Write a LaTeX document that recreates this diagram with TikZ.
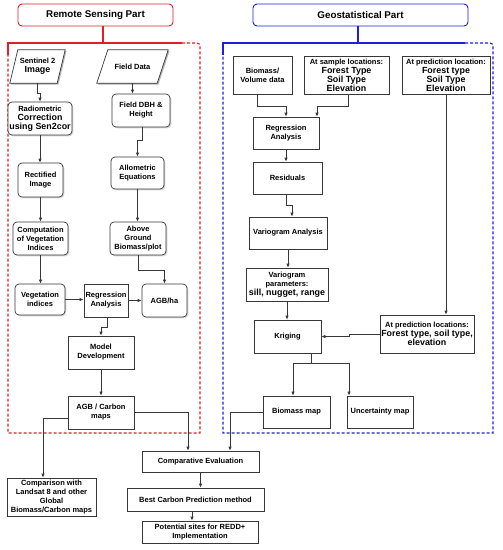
\documentclass[tikz,border=0pt]{standalone}
\usepackage{fontspec}
\setmainfont{Liberation Sans}
\usetikzlibrary{arrows.meta,shadows,calc}
\definecolor{rsred}{RGB}{225,30,40}
\definecolor{gsblue}{RGB}{30,30,225}
\definecolor{edge}{RGB}{55,55,55}
\newcommand\bigt{\fontsize{8.9}{9.8}\selectfont}
\tikzset{
  base/.style={font=\fontsize{7.5}{8.9}\selectfont\bfseries, align=center, inner sep=0.5pt, text=black},
  box/.style={base, draw=edge, line width=0.7pt, fill=white, drop shadow={shadow xshift=1.3pt, shadow yshift=-1.3pt, opacity=0.35}},
  rbox/.style={box, rounded corners=4pt},
  pnode/.style={base},
  header/.style={base, font=\fontsize{9.8}{11}\selectfont\bfseries, line width=0.9pt, rounded corners=4pt, fill=white},
  arr/.style={draw=edge, line width=0.7pt, -{Latex[length=4pt,width=3.4pt]}},
  framedash/.style={line width=1.1pt, dash pattern=on 3pt off 2pt},
  framesolid/.style={line width=1.1pt},
}
\begin{document}
\begin{tikzpicture}[x=1pt,y=-1pt]
\useasboundingbox (0,0) rectangle (503,550);
% headers
\node[header, draw=rsred, minimum width=155pt, minimum height=22pt] (rsp) at (95.5,15) {Remote Sensing Part};
\node[header, draw=gsblue, minimum width=215pt, minimum height=22pt] (gsp) at (360.5,15) {Geostatistical Part};
% frames
\coordinate (rTL) at (8,43); \coordinate (rTR) at (200,43);
\coordinate (rBL) at (8,433); \coordinate (rBR) at (200,433);
\coordinate (bTL) at (223,43); \coordinate (bTR) at (493,43);
\coordinate (bBL) at (223,433); \coordinate (bBR) at (493,433);
\coordinate (rJ) at (103,43); \coordinate (bJ) at (358,43);
\draw[draw=rsred, framedash] (182,43) [rounded corners=3pt] -- (rTR) -- (200,60) [sharp corners] -- (rBR) -- (rBL) -- (8,55);
\draw[draw=rsred, framesolid] (8,55) -- (rTL) -- (182,43);
\draw[draw=rsred, framesolid] (rsp.south -| rJ) -- (rJ);
\draw[draw=gsblue, framedash] (465,43) [rounded corners=3pt] -- (bTR) -- (493,60) [sharp corners] -- (bBR) -- (bBL) -- (223,55);
\draw[draw=gsblue, framesolid] (223,55) -- (bTL) -- (465,43);
\draw[draw=gsblue, framesolid] (gsp.south -| bJ) -- (bJ);

% ---- remote sensing part ----
\node[pnode, minimum width=47pt, minimum height=33pt] (s2) at (37.5,66.5) {};
\node[pnode, minimum width=60pt, minimum height=33pt] (fd) at (132.5,66.5) {};
\foreach \n/\s in {s2/4,fd/5.5}{
  \fill[black, opacity=0.3] ([shift={(-\s pt+1.3pt,-1.3pt)}]\n.south west) -- ([shift={(\s pt+1.3pt,-1.3pt)}]\n.north west) -- ([shift={(\s pt+1.3pt,-1.3pt)}]\n.north east) -- ([shift={(-\s pt+1.3pt,-1.3pt)}]\n.south east) -- cycle;
  \draw[draw=edge, line width=0.7pt, fill=white] ([xshift=-\s pt]\n.south west) -- ([xshift=\s pt]\n.north west) -- ([xshift=\s pt]\n.north east) -- ([xshift=-\s pt]\n.south east) -- cycle;
}
\node[pnode] at (s2) {Sentinel 2\\{\bigt Image}};
\node[pnode] at (fd) {Field Data};

\node[rbox, minimum width=64pt, minimum height=33pt] (rad) at (40,118.5) {Radiometric\\{\bigt Correction}\\{\bigt using Sen2cor}};
\node[rbox, minimum width=58pt, minimum height=33pt] (dbh) at (141,110.5) {Field DBH \&\\Height};
\node[rbox, minimum width=45pt, minimum height=34pt] (rect) at (40.5,180) {Rectified\\Image};
\node[rbox, minimum width=53pt, minimum height=32pt] (allo) at (137.5,173) {Allometric\\Equations};
\node[rbox, minimum width=55pt, minimum height=33pt] (comp) at (40.5,238.5) {Computation\\of Vegetation\\Indices};
\node[rbox, minimum width=56pt, minimum height=33pt] (agbp) at (138,238.5) {Above\\Ground\\Biomass/plot};
\node[rbox, minimum width=50pt, minimum height=31pt] (veg) at (40,299.5) {Vegetation\\indices};
\node[box, minimum width=44pt, minimum height=33pt] (reg1) at (106,300.5) {Regression\\Analysis};
\node[rbox, minimum width=45pt, minimum height=33pt] (agbha) at (164.5,300.5) {AGB/ha};
\node[box, minimum width=66pt, minimum height=33pt] (model) at (101,352.5) {Model\\Development};
\node[box, minimum width=66pt, minimum height=33pt] (agbc) at (101,412.5) {AGB / Carbon\\maps};

% ---- geostatistical part ----
\node[box, minimum width=59pt, minimum height=38pt] (bv) at (262.5,75) {Biomass/\\Volume data};
\node[box, minimum width=85pt, minimum height=38pt] (sl) at (346.5,75) {At sample locations:\\{\bigt Forest Type}\\{\bigt Soil Type}\\{\bigt Elevation}};
\node[box, minimum width=88pt, minimum height=38pt] (pl) at (446,75) {At prediction location:\\{\bigt Forest type}\\{\bigt Soil Type}\\{\bigt Elevation}};
\node[box, minimum width=66pt, minimum height=32pt] (reg2) at (286,133) {Regression\\Analysis};
\node[box, minimum width=69pt, minimum height=32pt] (res) at (287.5,178) {Residuals};
\node[box, minimum width=78pt, minimum height=32pt] (va) at (288,233) {Variogram Analysis};
\node[box, minimum width=82pt, minimum height=33pt] (vp) at (287,284.5) {Variogram\\parameters:\\{\bigt sill, nugget, range}};
\node[box, minimum width=67pt, minimum height=33pt] (kr) at (287.5,336.5) {Kriging};
\node[box, minimum width=94pt, minimum height=38pt] (pl2) at (427,334) {At prediction locations:\\{\bigt Forest type, soil type,}\\{\bigt elevation}};
\node[box, minimum width=67pt, minimum height=32pt] (bm) at (296.5,412) {Biomass map};
\node[box, minimum width=66pt, minimum height=32pt] (um) at (380,412) {Uncertainty map};

% ---- bottom ----
\node[box, minimum width=117pt, minimum height=21pt] (ce) at (200.5,461.5) {Comparative Evaluation};
\node[box, minimum width=89pt, minimum height=38pt] (cmp) at (51.5,497) {Comparison with\\Landsat 8 and other\\Global\\Biomass/Carbon maps};
\node[box, minimum width=137pt, minimum height=23pt] (best) at (195.5,499.5) {Best Carbon Prediction method};
\node[box, minimum width=116pt, minimum height=22pt] (pot) at (200,532) {Potential sites for REDD+\\Implementation};

% ---- connectors: remote sensing ----
\draw[arr] (s2.south) -- ++(0,10) -| (rad.north);
\draw[arr] (fd.south) -- (fd.south |- dbh.north);
\draw[arr] (rad.south) -- (rad.south |- rect.north);
\draw[arr] ([xshift=1pt]dbh.south) -- ++(0,13) -| (allo.north);
\draw[arr] (rect.south) -- (rect.south |- comp.north);
\draw[arr] (allo.south) -- (allo.south |- agbp.north);
\draw[arr] (comp.south) -- (comp.south |- veg.north);
\draw[arr] (agbp.south) -- ++(0,15) -| (agbha.north);
\draw[arr] (veg.east) -- (veg.east -| reg1.west);
\draw[arr] (reg1.east) -- (agbha.west);
\draw[arr] ([xshift=1pt]reg1.south) -- ++(0,10) -| (model.north);
\draw[arr] (model.south) -- (agbc.north);
\draw[arr] ([yshift=-5.5pt]agbc.west) -| ([xshift=-8.5pt]cmp.north);
\draw[arr] ([yshift=0.5pt]agbc.east) -| ([xshift=-12.5pt]ce.north);
% ---- connectors: geostatistical ----
\draw[arr] ([xshift=-5.5pt]bv.south) -- ++(0,12) -| (reg2.north);
\draw[arr] ([xshift=1.5pt]sl.south) -- ++(0,12) -| ([xshift=31pt]reg2.north);
\draw[arr] (reg2.south) -- (reg2.south |- res.north);
\draw[arr] ([xshift=-1.5pt]res.south) -- ++(0,11) -| ([xshift=4pt]va.north);
\draw[arr] (va.south) -- (va.south |- vp.north);
\draw[arr] (vp.south) -- (vp.south |- kr.north);
\draw[arr] (pl.south) -- (pl.south |- pl2.north);
\draw[arr] (pl2.west) -- ++(-30,0) |- (kr.east);
\draw[arr] ([xshift=23.5pt]kr.south) -- ++(0,10) -| ([xshift=-3.5pt]bm.north);
\draw[arr] ([xshift=23.5pt]kr.south) -- ++(0,10) -| ([xshift=-31pt]um.north);
\draw[arr] (bm.west) -| ([xshift=29.5pt]ce.north);
% ---- connectors: bottom ----
\draw[arr] (ce.south) -- (ce.south |- best.north);
\draw[arr] ([xshift=-3.5pt]best.south) -- ([xshift=-3.5pt]best.south |- pot.north);
\end{tikzpicture}
\end{document}
